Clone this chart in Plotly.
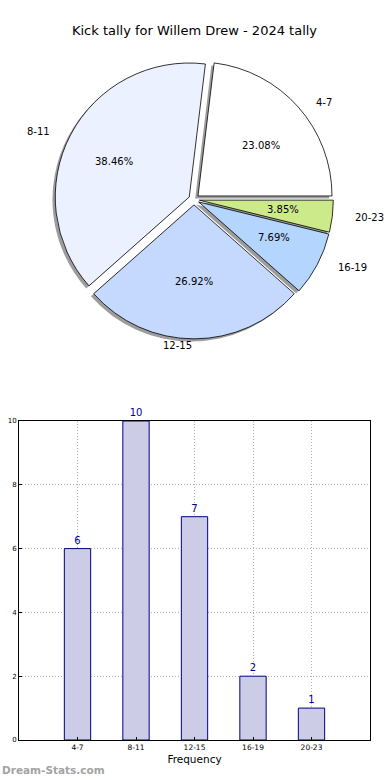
import math
import plotly.graph_objects as go

# ---------------- data ----------------
categories = ["4-7", "8-11", "12-15", "16-19", "20-23"]
counts = [6, 10, 7, 2, 1]
pie_colors = ["#ffffff", "#ebf1fe", "#c5d8fe", "#b3d5fe", "#cdea8a"]
title_text = "Kick tally for Willem Drew - 2024 tally"
x_title = "Frequency"
y_ticks = [0, 2, 4, 6, 8, 10]
watermark = "Dream-Stats.com"

# ---------------- layout constants ----------------
W, H = 390, 780
FONT = "DejaVu Sans"

PIE_CX, PIE_CY, PIE_R = 194, 199.5, 134
PULL = 0.04
TEXT_RX, TEXT_RY = 141, 128
SH_DX, SH_DY = -2.8, 2.6


def px_x(x):
    return x / W


def px_y(y):
    return 1 - y / H


total = sum(counts)
# plotly (counterclockwise): rotation marks the ccw end of the first slice,
# measured clockwise from 12 o'clock -> first slice starts at 3 o'clock
rotation = 90 - 360 * counts[0] / total

half = PIE_R * (1 + PULL)
dom_x = [px_x(PIE_CX - half), px_x(PIE_CX + half)]
dom_y = [px_y(PIE_CY + half), px_y(PIE_CY - half)]
shadow_x = [d + SH_DX / W for d in dom_x]
shadow_y = [d - SH_DY / H for d in dom_y]

fig = go.Figure()

# shadow pie
fig.add_trace(go.Pie(
    labels=categories, values=counts, sort=False,
    direction="counterclockwise", rotation=rotation,
    pull=[PULL] * len(counts),
    domain=dict(x=shadow_x, y=shadow_y),
    marker=dict(colors=["rgba(60,60,60,0.5)"] * len(counts), line=dict(width=0)),
    textinfo="none", hoverinfo="skip", showlegend=False,
))

# main pie
fig.add_trace(go.Pie(
    labels=categories, values=counts, sort=False,
    direction="counterclockwise", rotation=rotation,
    pull=[PULL] * len(counts),
    domain=dict(x=dom_x, y=dom_y),
    marker=dict(colors=pie_colors, line=dict(color="#000000", width=0.8)),
    textinfo="none", showlegend=False,
))

annotations = []
start = 0.0
for cat, v in zip(categories, counts):
    frac = v / total
    mid = math.radians(360 * (start + frac / 2))
    start += frac
    c, s = math.cos(mid), math.sin(mid)
    ox, oy = PULL * PIE_R * c, PULL * PIE_R * s
    pxp = PIE_CX + ox + 0.6 * TEXT_RX * c
    pyp = PIE_CY - oy - 0.6 * TEXT_RY * s
    annotations.append(dict(
        x=px_x(pxp), y=px_y(pyp), xref="paper", yref="paper",
        text=f"{100 * frac:.2f}%", showarrow=False,
        xanchor="center", yanchor="middle",
        font=dict(family=FONT, size=10, color="#000000"),
    ))
    lx = PIE_CX + ox + 1.1 * TEXT_RX * c
    ly = PIE_CY - oy - 1.1 * TEXT_RY * s
    annotations.append(dict(
        x=px_x(lx), y=px_y(ly), xref="paper", yref="paper",
        text=cat, showarrow=False,
        xanchor="left" if c > 0 else "right", yanchor="middle",
        font=dict(family=FONT, size=10, color="#000000"),
    ))

annotations.append(dict(
    x=0, y=px_y(770), xref="paper", yref="paper", text=watermark,
    showarrow=False, xanchor="left", yanchor="middle",
    font=dict(family=FONT, size=10.5, color="#a3a3a3", weight="bold"),
))

# bar chart
fig.add_trace(go.Bar(
    x=categories, y=counts, width=0.45,
    marker=dict(color="#ccccE6", line=dict(color="#000080", width=1)),
    text=[str(v) for v in counts], textposition="outside",
    textfont=dict(family=FONT, size=10, color="#000099"),
    cliponaxis=False, constraintext="none",
    showlegend=False, hoverinfo="x+y",
))

GRID_DASH = "1px,2px"

fig.update_layout(
    template="none",
    width=W, height=H,
    margin=dict(l=0, r=0, t=0, b=0),
    paper_bgcolor="white", plot_bgcolor="white",
    font=dict(family=FONT, color="#000000"),
    title=dict(text=title_text, x=px_x(194.5), y=px_y(30),
               xanchor="center", yanchor="middle",
               font=dict(family=FONT, size=13, color="#000000")),
    annotations=annotations,
    xaxis=dict(
        domain=[px_x(19), px_x(370)], anchor="y", type="category",
        range=[-1, 5], showline=True, mirror=True, linecolor="#000000", linewidth=1,
        ticks="inside", ticklen=3, tickcolor="#000000",
        showgrid=True, gridcolor="#b0b0b0", griddash=GRID_DASH, gridwidth=1,
        tickfont=dict(family=FONT, size=7.5, color="#000000"),
        title=dict(text=x_title, font=dict(family=FONT, size=10.5), standoff=4),
        zeroline=False, fixedrange=True,
    ),
    yaxis=dict(
        domain=[px_y(740), px_y(421)], anchor="x",
        range=[0, 10], tickvals=y_ticks,
        showline=True, mirror=True, linecolor="#000000", linewidth=1,
        ticks="inside", ticklen=3, tickcolor="#000000",
        showgrid=True, gridcolor="#b0b0b0", griddash=GRID_DASH, gridwidth=1,
        tickfont=dict(family=FONT, size=7, color="#000000"),
        zeroline=False, fixedrange=True,
    ),
)

fig.write_html(
    "out.html",
    config={"displayModeBar": False},
    post_script="document.body.style.margin='0px';document.body.style.padding='0px';",
)
